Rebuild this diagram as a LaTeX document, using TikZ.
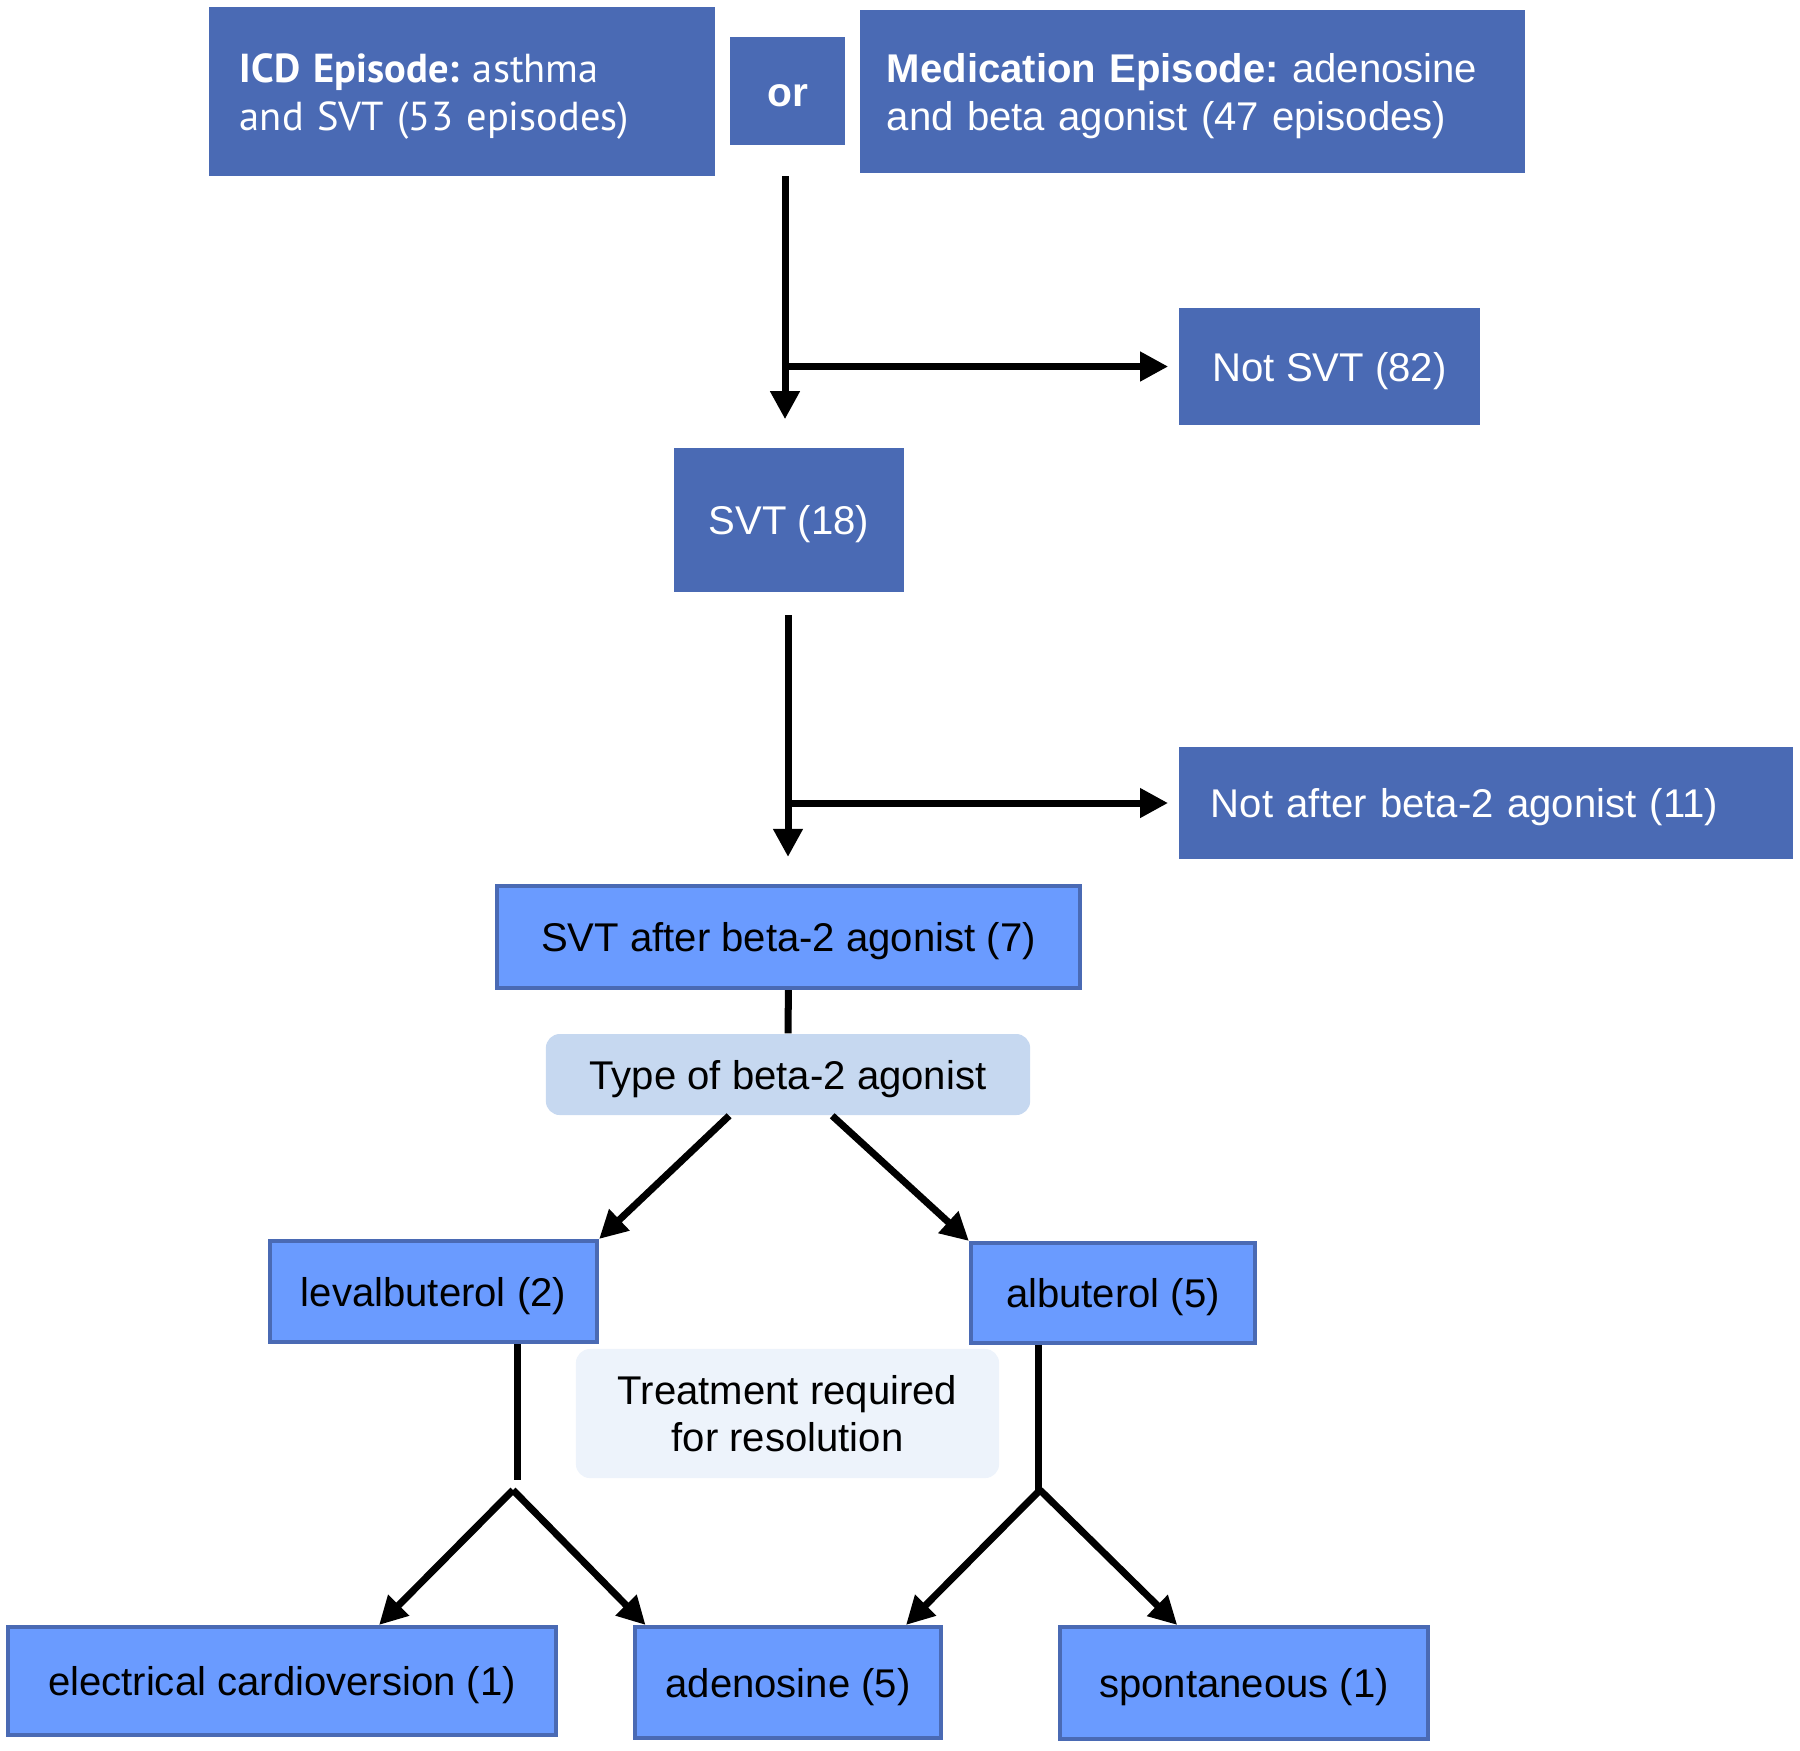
\documentclass[tikz,border=0pt]{standalone}
\usepackage{fontspec}
\setmainfont{Liberation Sans}
\newfontfamily\icdfont{PT Sans}
\usetikzlibrary{arrows.meta}
\definecolor{darkblue}{HTML}{4A6AB4}
\definecolor{boxblue}{HTML}{6A9BFF}
\definecolor{edgeblue}{HTML}{4A6AB4}
\definecolor{typeblue}{HTML}{C6D8F0}
\definecolor{treatblue}{HTML}{EDF3FB}
\frenchspacing

\begin{document}
\begin{tikzpicture}[x=0.01cm, y=-0.01cm,
    darkbox/.style={rectangle, fill=darkblue, text=white, inner sep=0pt, text depth=0pt, font=\fontsize{11.4}{13.7}\selectfont},
    lightbox/.style={rectangle, draw=edgeblue, line width=0.04cm, fill=boxblue, inner sep=0pt, text depth=0pt, font=\fontsize{11.4}{13.7}\selectfont},
    notebox/.style={rectangle, rounded corners=0.14cm, inner sep=0pt, align=center, font=\fontsize{11.4}{13.2}\selectfont},
    line/.style={line width=0.07cm},
    arr/.style={line width=0.07cm, -{Triangle[length=0.28cm,width=0.28cm]}}
    ]
    \useasboundingbox (0,0) rectangle (1800,1750);

    % top row
    \node [darkbox, minimum height=1.69cm, text width=4.44cm, inner xsep=0.31cm, align=left, text depth=13.5pt, font=\icdfont\fontsize{11.5}{13.7}\selectfont] (icd) at (462,91.5)
        {\textbf{ICD Episode:} asthma\\and SVT (53 episodes)};
    \node [darkbox, minimum width=1.15cm, minimum height=1.08cm, text height=9pt, font=\bfseries\fontsize{11.6}{13.7}\selectfont] (or) at (787.5,91) {or};
    \node [darkbox, minimum height=1.63cm, text width=6.11cm, inner xsep=0.27cm, align=left, text depth=13.5pt] (med) at (1192.5,91.5)
        {\textbf{Medication Episode:} adenosine\\and beta agonist (47 episodes)};

    \node [darkbox, minimum width=3.01cm, minimum height=1.17cm] (notsvt) at (1329.5,366.5) {Not SVT (82)};
    \node [darkbox, minimum width=2.30cm, minimum height=1.44cm] (svt) at (789,520) {SVT (18)};
    \node [darkbox, minimum height=1.12cm, text width=5.5cm, inner xsep=0.32cm, align=left] (notafter) at (1486,803) {Not after beta-2 agonist (11)};

    \node [lightbox, minimum width=5.83cm, minimum height=1.02cm] (after) at (788.5,937) {SVT after beta-2 agonist (7)};
    \node [notebox, fill=typeblue, text depth=0pt, minimum width=4.84cm, minimum height=0.81cm] (type) at (788,1074.5) {Type of beta-2 agonist};

    \node [lightbox, minimum width=3.27cm, minimum height=1.01cm] (leval) at (433.5,1291.5) {levalbuterol (2)};
    \node [lightbox, minimum width=2.84cm, minimum height=1.00cm] (albu) at (1113,1293) {albuterol (5)};
    \node [notebox, fill=treatblue, minimum width=4.23cm, minimum height=1.29cm] (treat) at (787.5,1413.5) {Treatment required\\for resolution};

    \node [lightbox, minimum width=5.48cm, minimum height=1.08cm] (elec) at (282,1681) {electrical cardioversion (1)};
    \node [lightbox, minimum width=3.06cm, minimum height=1.11cm] (adeno) at (788,1682.5) {adenosine (5)};
    \node [lightbox, minimum width=3.68cm, minimum height=1.12cm] (spont) at (1244,1683) {spontaneous (1)};

    \coordinate (top) at (785,176);
    \coordinate (svtbot) at (788,615);
    \coordinate (lsplit) at (513,1490);
    \coordinate (asplit) at (1040,1490);

    % first selection
    \draw [arr, shorten >=0.28cm] (top) -- (top |- svt.north);
    \draw [arr, shorten >=0.1cm] (top |- notsvt.west) -- (notsvt.west);

    % second selection
    \draw [arr, shorten >=0.27cm] (svtbot) -- (svtbot |- after.north);
    \draw [arr, shorten >=0.1cm] (svtbot |- notafter.west) -- (notafter.west);

    \draw [line] (after) -- (type);
    \draw [arr] (type.215) -- (leval.north east);
    \draw [arr] (type.317) -- (albu.north west);

    \draw [line, shorten >=0.1cm] (leval.328) -- (leval.328 |- lsplit);
    \draw [line] (albu.215) -- (albu.215 |- asplit);
    \draw [arr] (lsplit) -- (elec.30);
    \draw [arr] (lsplit) -- (adeno.158);
    \draw [arr] (asplit) -- (adeno.26);
    \draw [arr] (asplit) -- (spont.139);
\end{tikzpicture}
\end{document}
